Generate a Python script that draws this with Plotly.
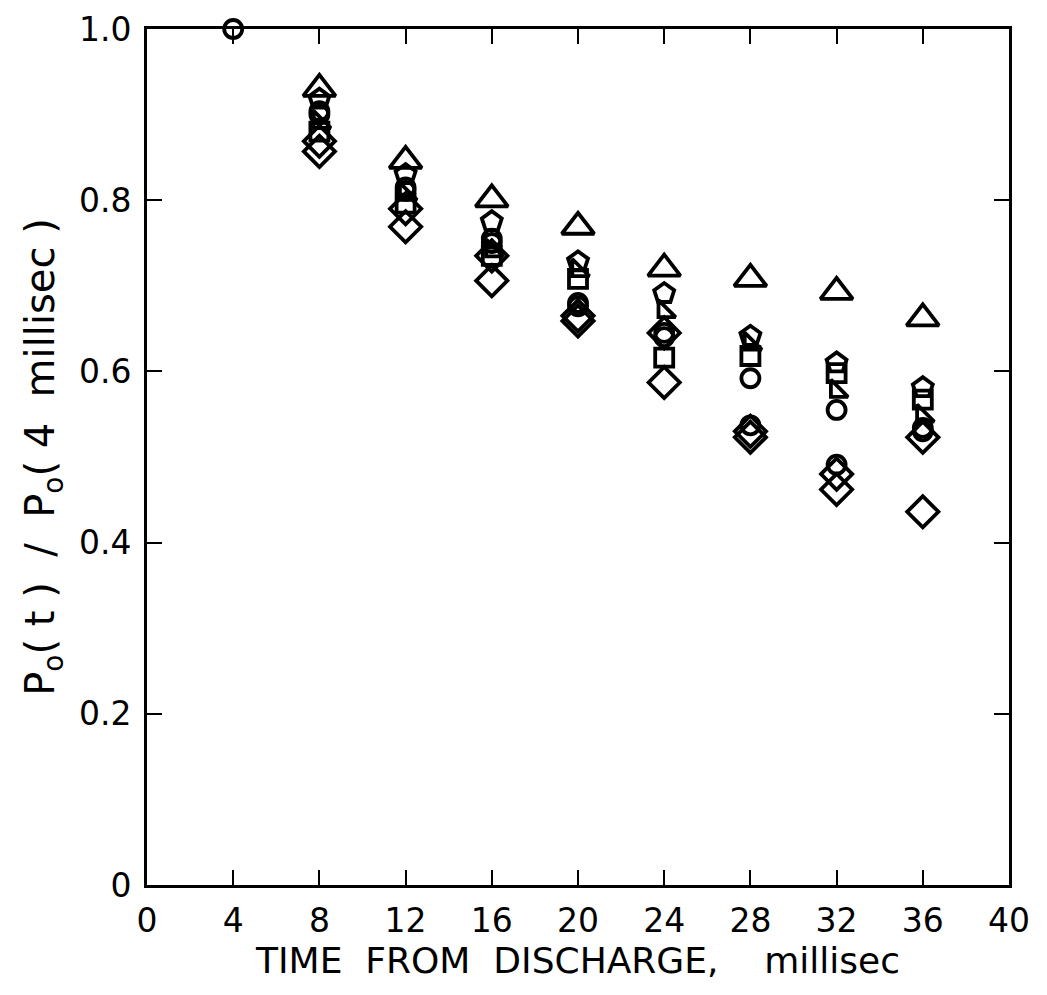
import plotly.graph_objects as go

time_ms = [4, 8, 12, 16, 20, 24, 28, 32, 36]

triangle = [None, 0.930, 0.846, 0.801, 0.769, 0.720, 0.708, 0.693, 0.662]
d_shape = [None, 0.918, 0.830, 0.775, 0.728, 0.691, 0.641, 0.610, 0.581]
flag = [None, 0.891, 0.807, 0.741, 0.718, 0.670, 0.632, 0.577, 0.548]
square = [None, 0.880, 0.796, 0.735, 0.708, 0.616, 0.618, 0.598, 0.567]
circle_a = [1.0, 0.904, 0.811, 0.755, 0.676, 0.645, 0.592, 0.555, 0.534]
circle_b = [None, 0.900, 0.815, 0.750, 0.680, 0.640, 0.537, 0.491, 0.530]
diamond_a = [None, 0.857, 0.769, 0.706, 0.659, 0.587, 0.523, 0.462, 0.436]
diamond_b = [None, 0.869, 0.790, 0.735, 0.665, 0.645, 0.530, 0.480, 0.523]

x_ticks = [0, 4, 8, 12, 16, 20, 24, 28, 32, 36, 40]
y_ticks = [0, 0.2, 0.4, 0.6, 0.8, 1.0]
y_tick_text = ["0", "0.2", "0.4", "0.6", "0.8", "1.0"]

series = [
    (triangle, "triangle-up-open", 28),
    (d_shape, "pentagon-open", 21),
    (square, "square-open", 18),
    (flag, "triangle-sw-open", 19),
    (circle_b, "circle-open", 18),
    (circle_a, "circle-open", 18),
    (diamond_b, "diamond-open", 24),
    (diamond_a, "diamond-open", 24),
]

fig = go.Figure()
for ys, sym, sz in series:
    fig.add_trace(go.Scatter(
        x=time_ms, y=ys, mode="markers", cliponaxis=False,
        marker=dict(symbol=sym, size=sz, color="black",
                    line=dict(color="black", width=3.8)),
        showlegend=False,
    ))

font_family = "DejaVu Sans, Liberation Sans, sans-serif"
axis_common = dict(
    showline=True, linecolor="black", linewidth=3, mirror="ticks",
    ticks="inside", ticklen=15, tickwidth=2, tickcolor="black",
    showgrid=False, zeroline=False, automargin=False,
    ticklabeloverflow="allow",
    tickfont=dict(family=font_family, size=33, color="black"),
)

fig.update_layout(
    width=1047, height=995,
    paper_bgcolor="white", plot_bgcolor="white",
    margin=dict(l=139, r=46, t=21, b=118),
    xaxis=dict(range=[0, 40], tickvals=x_ticks, ticklabelstandoff=4,
               title=dict(text="TIME  FROM  DISCHARGE,    millisec",
                          font=dict(family=font_family, size=36, color="black"),
                          standoff=6),
               **axis_common),
    yaxis=dict(range=[0, 1.0], tickvals=y_ticks, ticktext=y_tick_text,
               ticklabelstandoff=6,
               title=dict(text="P<sub>o</sub>( t )  /  P<sub>o</sub>( 4  millisec )",
                          font=dict(family=font_family, size=40, color="black"),
                          standoff=12),
               **axis_common),
)

fig.write_html("out.html")
